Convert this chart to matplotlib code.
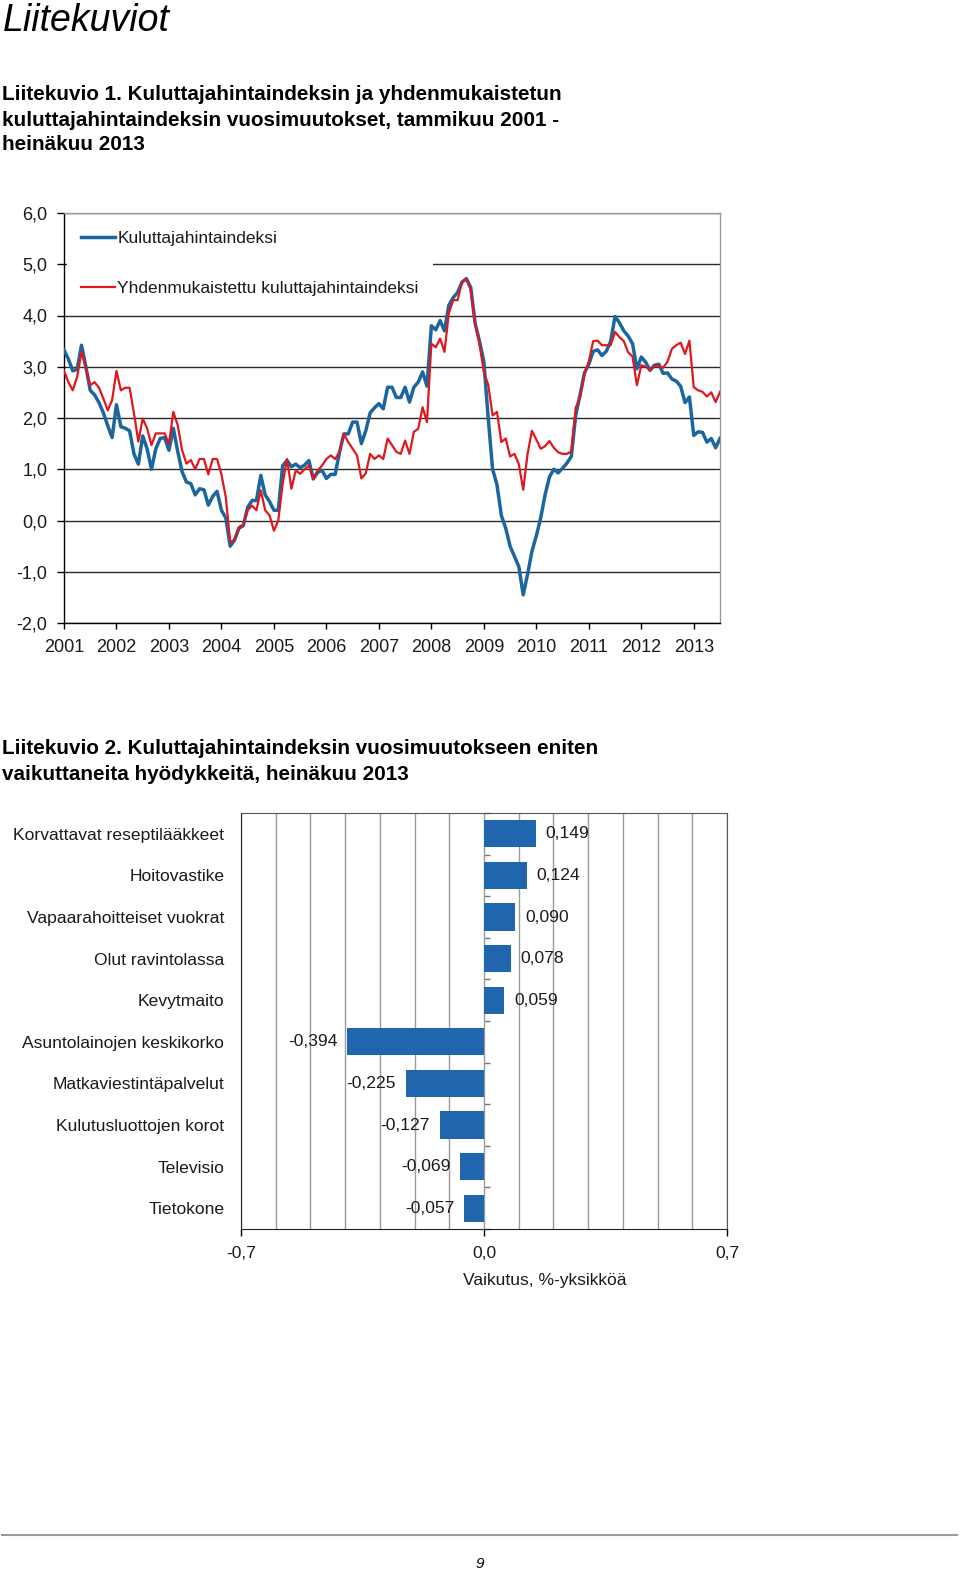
import numpy as np
import matplotlib
matplotlib.use("Agg")
import matplotlib.pyplot as plt
from matplotlib.lines import Line2D
from matplotlib.ticker import MultipleLocator

plt.rcParams['font.family'] = ['Liberation Sans', 'DejaVu Sans']

# ---------------- data: chart 1 (monthly, Jan 2001 - Jul 2013) ----------------
years = ['2001', '2002', '2003', '2004', '2005', '2006', '2007',
         '2008', '2009', '2010', '2011', '2012', '2013']
khi = [  # Kuluttajahintaindeksi
    3.33, 3.15, 2.92, 2.95, 3.42, 3.00, 2.54, 2.45, 2.30, 2.10, 1.85, 1.62,   # 2001
    2.26, 1.83, 1.80, 1.75, 1.30, 1.10, 1.65, 1.40, 1.00, 1.40, 1.60, 1.62,   # 2002
    1.37, 1.80, 1.35, 0.95, 0.75, 0.72, 0.50, 0.62, 0.60, 0.30, 0.47, 0.57,   # 2003
    0.20, 0.05, -0.50, -0.38, -0.15, -0.10, 0.26, 0.39, 0.39, 0.88, 0.50, 0.37,  # 2004
    0.20, 0.20, 1.07, 1.17, 1.05, 1.10, 1.03, 1.08, 1.17, 0.81, 0.94, 0.98,   # 2005
    0.82, 0.90, 0.90, 1.33, 1.69, 1.69, 1.92, 1.92, 1.50, 1.75, 2.10, 2.20,   # 2006
    2.28, 2.18, 2.60, 2.60, 2.40, 2.40, 2.60, 2.31, 2.60, 2.70, 2.90, 2.62,   # 2007
    3.80, 3.72, 3.90, 3.70, 4.20, 4.35, 4.45, 4.65, 4.72, 4.55, 3.85, 3.50,   # 2008
    3.10, 2.00, 1.00, 0.70, 0.10, -0.15, -0.50, -0.70, -0.90, -1.45, -1.05, -0.60,  # 2009
    -0.30, 0.05, 0.50, 0.85, 1.00, 0.93, 1.02, 1.12, 1.25, 2.05, 2.45, 2.88,  # 2010
    3.05, 3.30, 3.33, 3.22, 3.30, 3.50, 3.98, 3.86, 3.70, 3.60, 3.45, 2.96,   # 2011
    3.19, 3.09, 2.93, 3.03, 3.05, 2.87, 2.88, 2.76, 2.72, 2.62, 2.30, 2.41,   # 2012
    1.66, 1.73, 1.72, 1.53, 1.60, 1.42, 1.60,                                 # 2013
]
yhki = [  # Yhdenmukaistettu kuluttajahintaindeksi
    2.92, 2.70, 2.54, 2.80, 3.29, 2.97, 2.64, 2.70, 2.59, 2.38, 2.15, 2.35,   # 2001
    2.92, 2.54, 2.59, 2.59, 2.09, 1.54, 1.99, 1.80, 1.47, 1.70, 1.70, 1.70,   # 2002
    1.50, 2.12, 1.86, 1.37, 1.11, 1.18, 1.00, 1.20, 1.20, 0.90, 1.20, 1.20,   # 2003
    0.90, 0.45, -0.42, -0.38, -0.13, -0.08, 0.20, 0.29, 0.20, 0.59, 0.20, 0.10,  # 2004
    -0.20, 0.00, 0.72, 1.20, 0.62, 0.98, 0.91, 1.00, 1.07, 0.81, 0.98, 1.07,  # 2005
    1.20, 1.27, 1.20, 1.34, 1.69, 1.53, 1.40, 1.27, 0.82, 0.92, 1.30, 1.20,   # 2006
    1.27, 1.20, 1.60, 1.47, 1.34, 1.30, 1.56, 1.30, 1.73, 1.79, 2.21, 1.92,   # 2007
    3.45, 3.38, 3.55, 3.29, 4.05, 4.30, 4.30, 4.66, 4.70, 4.50, 3.85, 3.45,   # 2008
    2.90, 2.65, 2.05, 2.12, 1.53, 1.60, 1.25, 1.30, 1.10, 0.60, 1.30, 1.75,   # 2009
    1.58, 1.40, 1.45, 1.55, 1.42, 1.33, 1.30, 1.30, 1.35, 2.20, 2.40, 2.85,   # 2010
    3.10, 3.50, 3.51, 3.42, 3.42, 3.42, 3.68, 3.58, 3.50, 3.28, 3.20, 2.64,   # 2011
    3.03, 3.00, 2.93, 3.03, 3.02, 2.98, 3.10, 3.35, 3.42, 3.47, 3.25, 3.51,   # 2012
    2.60, 2.54, 2.51, 2.42, 2.50, 2.31, 2.51,                                 # 2013
]
series_names = ['Kuluttajahintaindeksi', 'Yhdenmukaistettu kuluttajahintaindeksi']
y_ticks = [-2, -1, 0, 1, 2, 3, 4, 5, 6]
y_ticklabels = ['-2,0', '-1,0', '0,0', '1,0', '2,0', '3,0', '4,0', '5,0', '6,0']

# ---------------- data: chart 2 ----------------
categories = ['Korvattavat reseptilääkkeet', 'Hoitovastike', 'Vapaarahoitteiset vuokrat',
              'Olut ravintolassa', 'Kevytmaito', 'Asuntolainojen keskikorko',
              'Matkaviestintäpalvelut', 'Kulutusluottojen korot', 'Televisio', 'Tietokone']
impacts = [0.149, 0.124, 0.090, 0.078, 0.059, -0.394, -0.225, -0.127, -0.069, -0.057]
bar_xticks = [-0.7, 0.0, 0.7]
bar_xticklabels = ['-0,7', '0,0', '0,7']

# ---------------- figure ----------------
W, H = 960, 1572
fig = plt.figure(figsize=(W / 100, H / 100), dpi=100)


def fx(px):
    return px / W


def fy(px):
    return 1 - px / H


TXT = '#1a1a1a'
fig.text(fx(3), fy(21), 'Liitekuviot', style='italic', fontsize=27, va='center', ha='left', color='black')
title1 = ['Liitekuvio 1. Kuluttajahintaindeksin ja yhdenmukaistetun',
          'kuluttajahintaindeksin vuosimuutokset, tammikuu 2001 -',
          'heinäkuu 2013']
for i, line in enumerate(title1):
    fig.text(fx(2), fy(95 + 25 * i), line, fontsize=14.9, weight='bold', va='center', ha='left')
title2 = ['Liitekuvio 2. Kuluttajahintaindeksin vuosimuutokseen eniten',
          'vaikuttaneita hyödykkeitä, heinäkuu 2013']
for i, line in enumerate(title2):
    fig.text(fx(2), fy(749 + 25 * i), line, fontsize=14.9, weight='bold', va='center', ha='left')

# ---------------- chart 1 ----------------
ax1 = fig.add_axes([fx(64), fy(623), fx(720) - fx(64), fy(213) - fy(623)])
months = np.arange(len(khi))
ax1.plot(months, khi, color='#1c66a0', lw=2.5, label=series_names[0], zorder=3,
         solid_joinstyle='round')
ax1.plot(months, yhki, color='#e0171d', lw=1.6, label=series_names[1], zorder=4,
         solid_joinstyle='round')
ax1.set_xlim(0, len(khi) - 1)
ax1.set_ylim(-2, 6)
ax1.set_yticks(y_ticks)
ax1.set_yticklabels(y_ticklabels)
ax1.set_xticks(np.arange(len(years)) * 12)
ax1.set_xticklabels(years)
ax1.yaxis.grid(True, color='#2a2a2a', lw=1.0)
ax1.set_axisbelow(True)
ax1.tick_params(axis='y', length=5, width=1, pad=7, labelsize=13, labelcolor=TXT)
ax1.tick_params(axis='x', length=4, width=1, pad=7.5, labelsize=13, labelcolor=TXT)
for s in ['left', 'bottom']:
    ax1.spines[s].set_color('black')
    ax1.spines[s].set_linewidth(1.0)
for s in ['top', 'right']:
    ax1.spines[s].set_color('#9a9a9a')
    ax1.spines[s].set_linewidth(1.0)
leg = ax1.legend(loc='upper left', bbox_to_anchor=(0.004, 0.99), fontsize=12.5, frameon=True,
                 facecolor='white', edgecolor='none', framealpha=1, fancybox=False,
                 borderpad=0.8, borderaxespad=0, handlelength=2.0, handletextpad=0.12,
                 labelspacing=2.0)
leg.set_zorder(2.4)
for t in leg.get_texts():
    t.set_color(TXT)

# ---------------- chart 2 ----------------
ax2 = fig.add_axes([fx(241), fy(1229), fx(727) - fx(241), fy(813) - fy(1229)])
ypos = np.arange(len(categories))
ax2.barh(ypos, impacts, height=0.65, color='#1f66ae', zorder=3)
ax2.set_xlim(-0.7, 0.7)
ax2.set_ylim(len(categories) - 0.5, -0.5)
ax2.set_yticks(ypos)
ax2.set_yticklabels(categories)
ax2.set_xticks(bar_xticks)
ax2.set_xticklabels(bar_xticklabels)
ax2.xaxis.set_minor_locator(MultipleLocator(0.1))
ax2.xaxis.grid(True, which='both', color='#9a9a9a', lw=1.0)
ax2.set_axisbelow(True)
ax2.tick_params(axis='y', length=0, pad=12, labelsize=12.6, labelcolor=TXT)
ax2.tick_params(axis='x', which='major', length=5, width=1, pad=7, labelsize=12.6, labelcolor=TXT)
ax2.tick_params(axis='x', which='minor', length=0)
for s in ['left', 'bottom']:
    ax2.spines[s].set_color('#222222')
for s in ['top', 'right']:
    ax2.spines[s].set_color('#555555')
# category separators on the zero axis
sec = ax2.secondary_yaxis(0.5)
sec.set_yticks(np.arange(len(categories) + 1) - 0.5)
sec.tick_params(length=4, width=1, color='#777777', labelleft=False, labelright=False)
sec.spines['left'].set_visible(False)
sec.spines['right'].set_visible(False)

for yv, val in zip(ypos, impacts):
    lab = f'{val:.3f}'.replace('.', ',')
    if val >= 0:
        ax2.annotate(lab, (val, yv), xytext=(7, 0), textcoords='offset points',
                     ha='left', va='center', fontsize=12.6, color=TXT, zorder=5)
    else:
        ax2.annotate(lab, (val, yv), xytext=(-7, 0), textcoords='offset points',
                     ha='right', va='center', fontsize=12.6, color=TXT, zorder=5)

fig.text(fx(545), fy(1281), 'Vaikutus, %-yksikköä', fontsize=12.6, ha='center', va='center', color=TXT)

# ---------------- footer ----------------
fig.add_artist(Line2D([fx(2), fx(957)], [fy(1535), fy(1535)], color='#9a9a9a', lw=1.5))
fig.text(fx(480), fy(1564), '9', style='italic', fontsize=11, ha='center', va='center')

fig.savefig('out.png', dpi=100)
